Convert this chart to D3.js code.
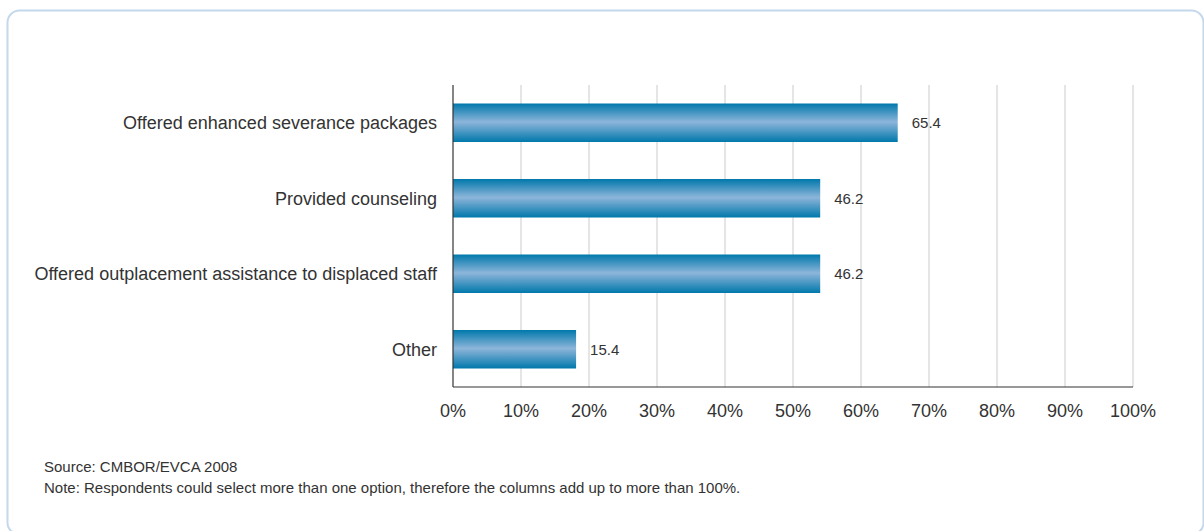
<!DOCTYPE html>
<html>
<head>
<meta charset="utf-8">
<script src="https://cdn.jsdelivr.net/npm/d3@7"></script>
<style>
  body { margin: 0; background: #fff; }
  svg text { font-family: "Liberation Sans Narrow", "Liberation Sans", Arial, sans-serif; fill: #333; }
</style>
</head>
<body>
<svg id="chart" width="1204" height="531"></svg>
<script>
// categories top to bottom
const categories = [
    "Offered enhanced severance packages",
    "Provided counseling",
    "Offered outplacement assistance to displaced staff",
    "Other"
]
// bar lengths as drawn in the picture (%)
const barValues = [65.4, 54.0, 54.0, 18.1]
// printed value labels
const valueLabels = ["65.4", "46.2", "46.2", "15.4"]
const ticks = [0, 10, 20, 30, 40, 50, 60, 70, 80, 90, 100]
const source = "Source: CMBOR/EVCA 2008"
const note = "Note: Respondents could select more than one option, therefore the columns add up to more than 100%."

const svg = d3.select("#chart")
const margin = { top: 85, left: 453, right: 71, bottom: 144 }
const width = 1204 - margin.left - margin.right
const height = 531 - margin.top - margin.bottom

// outer frame
svg.append("rect")
    .attr("x", 7.5).attr("y", 10.5)
    .attr("width", 1196).attr("height", 524)
    .attr("rx", 12).attr("ry", 12)
    .attr("fill", "none")
    .attr("stroke", "#c4d8ec")
    .attr("stroke-width", 2)

const defs = svg.append("defs")
const grad = defs.append("linearGradient")
    .attr("id", "barGrad")
    .attr("x1", 0).attr("y1", 0).attr("x2", 0).attr("y2", 1)
grad.append("stop").attr("offset", "0%").attr("stop-color", "#0078ab")
grad.append("stop").attr("offset", "48%").attr("stop-color", "#8db5da")
grad.append("stop").attr("offset", "100%").attr("stop-color", "#0078ab")

const g = svg.append("g").attr("transform", "translate(" + margin.left + "," + margin.top + ")")

const x = d3.scaleLinear().domain([0, 100]).range([0, width])
const y = d3.scaleBand().domain(categories).range([0, height]).paddingInner(0.49).paddingOuter(0.245)

// gridlines
g.selectAll(".grid")
    .data(ticks.slice(1))
    .enter().append("line")
    .attr("x1", d => x(d)).attr("x2", d => x(d))
    .attr("y1", 0).attr("y2", height)
    .attr("stroke", "#dcdcdc")
    .attr("stroke-width", 1.5)

// bars
g.selectAll(".bar")
    .data(barValues)
    .enter().append("rect")
    .attr("x", 0)
    .attr("y", (d, i) => y(categories[i]))
    .attr("width", d => x(d))
    .attr("height", y.bandwidth())
    .attr("fill", "url(#barGrad)")

// value labels
g.selectAll(".val")
    .data(barValues)
    .enter().append("text")
    .attr("x", d => x(d) + 14)
    .attr("y", (d, i) => y(categories[i]) + y.bandwidth() / 2)
    .attr("dy", "0.35em")
    .style("font-size", "15px")
    .text((d, i) => valueLabels[i])

// category labels
g.selectAll(".cat")
    .data(categories)
    .enter().append("text")
    .attr("x", -16)
    .attr("y", d => y(d) + y.bandwidth() / 2)
    .attr("dy", "0.35em")
    .style("text-anchor", "end")
    .style("font-size", "18px")
    .text(d => d)

// axes lines
g.append("line")
    .attr("x1", 0).attr("x2", 0).attr("y1", 0).attr("y2", height)
    .attr("stroke", "#333").attr("stroke-width", 1.2)
g.append("line")
    .attr("x1", 0).attr("x2", width).attr("y1", height).attr("y2", height)
    .attr("stroke", "#333").attr("stroke-width", 1.2)

// tick labels
g.selectAll(".tick")
    .data(ticks)
    .enter().append("text")
    .attr("x", d => x(d))
    .attr("y", height + 30)
    .style("text-anchor", "middle")
    .style("font-size", "18px")
    .text(d => d + "%")

svg.append("text").attr("x", 44).attr("y", 472).style("font-size", "15px").text(source)
svg.append("text").attr("x", 44).attr("y", 493).style("font-size", "15px").text(note)
</script>
</body>
</html>
